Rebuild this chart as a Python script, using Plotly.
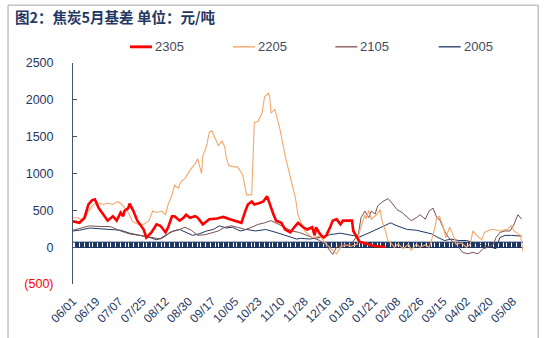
import pandas as pd
import plotly.graph_objects as go

START = pd.Timestamp("2019-06-01")
DAY_MS = 86400000

# Day offsets from 06/01 and basis values (元/吨) for each contract
d2305 = [0, 5, 9, 12, 15, 17, 20, 24, 27, 31, 34, 37, 39, 40, 43, 44, 47, 50, 52, 55,
         57, 61, 65, 68, 72, 74, 77, 79, 83, 86, 88, 91, 95, 97, 101, 104, 106, 112, 117, 122,
         127, 131, 134, 136, 139, 141, 145, 148, 151, 153, 156, 158, 162, 165, 169, 173, 175, 179, 182, 186,
         188, 189, 192, 195, 197, 200, 202, 205, 208, 210, 214, 217, 218, 221, 223, 226, 230, 233, 239, 243]
v2305 = [350, 330, 400, 580, 640, 650, 530, 440, 360, 420, 360, 470, 420, 490, 530, 590, 490, 360, 310, 240,
         130, 200, 310, 290, 200, 270, 420, 420, 360, 400, 440, 400, 420, 400, 310, 360, 380, 390, 410, 380,
         350, 330, 490, 580, 620, 580, 600, 620, 690, 580, 440, 360, 330, 240, 200, 290, 330, 270, 240, 270,
         160, 270, 180, 130, 160, 270, 360, 380, 310, 360, 360, 360, 220, 130, 70, 60, 40, 20, 10, 10]

d2205 = [0, 4, 8, 12, 16, 20, 24, 27, 31, 35, 38, 40, 43, 46, 48, 51, 55, 59, 62, 65,
         69, 72, 74, 77, 79, 82, 84, 87, 90, 92, 95, 97, 100, 101, 104, 106, 108, 110, 113, 116,
         118, 119, 121, 125, 128, 132, 135, 139, 141, 144, 147, 149, 152, 153, 154, 157, 161, 165, 169, 173,
         175, 178, 180, 186, 192, 197, 202, 205, 208, 212, 216, 221, 223, 226, 227, 228, 230, 232, 236, 239,
         240, 243, 245, 248, 250, 253, 257, 261, 263, 267, 270, 274, 277, 280, 283, 285, 288, 290, 293, 296,
         298, 302, 306, 309, 311, 314, 318, 320, 323, 325, 328, 332, 336, 338, 341, 343, 346, 348, 350]
v2205 = [400, 400, 360, 490, 580, 600, 580, 600, 580, 620, 580, 530, 470, 360, 330, 310, 310, 360, 490, 470,
         490, 440, 580, 710, 840, 800, 890, 930, 1020, 1070, 1130, 1200, 1000, 1240, 1380, 1560, 1580, 1490, 1380, 1440,
         1360, 1240, 1110, 1090, 1090, 980, 710, 710, 1690, 1710, 1820, 2040, 2090, 2040, 1820, 1870, 1600, 1240, 960, 670,
         440, 290, 220, 130, 150, 40, -40, -90, 0, 30, 10, 40, 220, 380, 440, 380, 500, 380, 440, 510,
         380, 220, 90, 40, 0, 40, -20, 40, -40, 40, 0, 30, 0, 160, 400, 420, 270, 130, 270, 150,
         40, 60, 0, 40, 220, 160, 100, 200, 220, 240, 240, 220, 240, 240, 290, 220, 180, 160, -60]

d2105 = [0, 5, 13, 21, 29, 37, 44, 52, 60, 68, 72, 75, 83, 87, 92, 97, 103, 108, 113, 118,
         123, 128, 134, 139, 144, 149, 154, 160, 165, 170, 176, 184, 192, 197, 202, 205, 210, 216, 222, 224,
         227, 230, 232, 235, 237, 241, 245, 248, 252, 256, 259, 263, 267, 270, 274, 277, 280, 283, 285, 289,
         292, 296, 300, 303, 307, 311, 315, 319, 323, 327, 329, 332, 336, 340, 343, 346, 349]
v2105 = [230, 250, 290, 280, 280, 220, 180, 160, 130, 110, 150, 200, 240, 270, 230, 160, 170, 200, 220, 270,
         290, 270, 240, 270, 310, 330, 360, 310, 270, 220, 200, 150, 90, 20, -100, 0, 40, 30, 180, 400,
         490, 400, 490, 450, 560, 620, 660, 600, 510, 470, 420, 360, 400, 440, 380, 490, 530, 400, 380, 220,
         130, 70, 0, -70, -90, -70, -90, -20, 0, 40, 130, 200, 220, 220, 310, 440, 380]

d2005 = [0, 5, 13, 21, 29, 37, 44, 52, 60, 65, 68, 74, 78, 83, 88, 93, 98, 104, 109, 114,
         119, 124, 130, 135, 142, 150, 158, 166, 174, 177, 184, 192, 200, 208, 216, 223, 231, 239, 247, 252,
         260, 267, 274, 279, 284, 289, 294, 300, 306, 315, 320, 325, 329, 332, 336, 341, 346, 349]
v2005 = [220, 230, 260, 250, 250, 230, 190, 160, 130, 100, 120, 180, 220, 240, 200, 160, 180, 220, 240, 290,
         260, 270, 220, 240, 220, 240, 200, 160, 110, 120, 110, 130, 170, 190, 160, 140, 200, 270, 330, 290,
         240, 230, 200, 180, 130, 90, 110, 90, 90, 40, 20, 0, -20, 130, 160, 160, 160, 150]

y_ticks = [-500, 0, 500, 1000, 1500, 2000, 2500]
y_labels = ['<span style="color:#ff0000">(500)</span>', "0", "500", "1000", "1500", "2000", "2500"]
title_text = "<b>图2：焦炭5月基差 单位：元/吨</b>"


def to_dates(days):
    return START + pd.to_timedelta(days, unit="D")


# page geometry (pixels) and helpers to place paper-referenced decorations
W, H = 548, 338
L, R, T, B = 73, 24.7, 63.3, 52
PW, PH = W - L - R, H - T - B


def px(x):
    return (x - L) / PW


def py(y):
    return (H - B - y) / PH


NAVY = "#1f3864"
AXIS = "#44546a"
TEXT_FONT = "Liberation Sans, Arial, sans-serif"

series = [
    ("2305", d2305, v2305, "#ff0000", 2.6),
    ("2205", d2205, v2205, "#f4a86c", 1.1),
    ("2105", d2105, v2105, "#7d5050", 1.0),
    ("2005", d2005, v2005, NAVY, 1.0),
]

x_end = START + pd.Timedelta(days=350)

fig = go.Figure()
# placeholder on the zero axis so that its subplot (line + dense ticks) is drawn
fig.add_trace(go.Scatter(x=[START, x_end], y=[None, None], xaxis="x2", yaxis="y",
                         mode="lines", showlegend=False, hoverinfo="skip"))
for name, days, vals, color, width in reversed(series):
    fig.add_trace(go.Scatter(
        x=to_dates(days), y=vals, mode="lines", name=name,
        line=dict(color=color, width=width), showlegend=False,
    ))

fig.update_layout(
    width=W, height=H,
    margin=dict(l=L, r=R, t=T, b=B, pad=0),
    paper_bgcolor="white", plot_bgcolor="rgba(0,0,0,0)",
    font=dict(family=TEXT_FONT, size=12, color=NAVY),
    xaxis=dict(
        type="date", range=[START, x_end],
        tick0=START, dtick=18 * DAY_MS, tickformat="%m/%d", tickangle=-45,
        ticks="", showline=False, showgrid=False, zeroline=False,
        tickfont=dict(size=12, color=NAVY), ticklabelstandoff=7,
    ),
    # axis through zero with dense crossing ticks
    xaxis2=dict(
        type="date", overlaying="x", matches="x", anchor="free", position=1 / 6,
        showline=True, linecolor=NAVY, linewidth=1.3,
        ticks="inside", ticklen=5, tickwidth=1.5, tickcolor=NAVY,
        tick0=START, dtick=2 * DAY_MS, showticklabels=False,
        showgrid=False, zeroline=False, layer="below traces",
    ),
    yaxis=dict(
        range=[-500, 2500], tickvals=y_ticks, ticktext=y_labels,
        showline=True, linecolor=AXIS, linewidth=1,
        ticks="inside", ticklen=4, tickcolor=AXIS,
        showgrid=False, zeroline=False,
        tickfont=dict(size=12.5, color=NAVY), ticklabelstandoff=16,
    ),
)

shapes = [
    # outer frame
    dict(type="rect", xref="paper", yref="paper",
         x0=px(8), x1=px(538.5), y0=py(345), y1=py(5),
         line=dict(color="#a6a6a6", width=1)),
    # upper edge of the zero axis band
    dict(type="line", xref="paper", yref="y", ysizemode="pixel", yanchor=0,
         x0=0, x1=1, y0=5, y1=5, line=dict(color=NAVY, width=1), layer="below"),
]

annotations = [
    dict(text=title_text, xref="paper", yref="paper", x=px(12.5), y=py(16),
         xanchor="left", yanchor="middle", showarrow=False,
         font=dict(family="Noto Sans CJK SC", size=14.5, color=NAVY)),
]

# legend row
legend_y = py(47)
legend_x = [130, 233, 335.5, 439]
for (name, _, _, color, width), lx in zip(series, legend_x):
    shapes.append(dict(type="line", xref="paper", yref="paper",
                       x0=px(lx), x1=px(lx + 22), y0=legend_y, y1=legend_y,
                       line=dict(color=color, width=width + 0.3)))
    annotations.append(dict(text=name, xref="paper", yref="paper",
                            x=px(lx + 23), y=legend_y, xanchor="left", yanchor="middle",
                            showarrow=False,
                            font=dict(family=TEXT_FONT, size=13, color="#3f4a5a")))

fig.update_layout(shapes=shapes, annotations=annotations)
fig.write_html("out.html")
